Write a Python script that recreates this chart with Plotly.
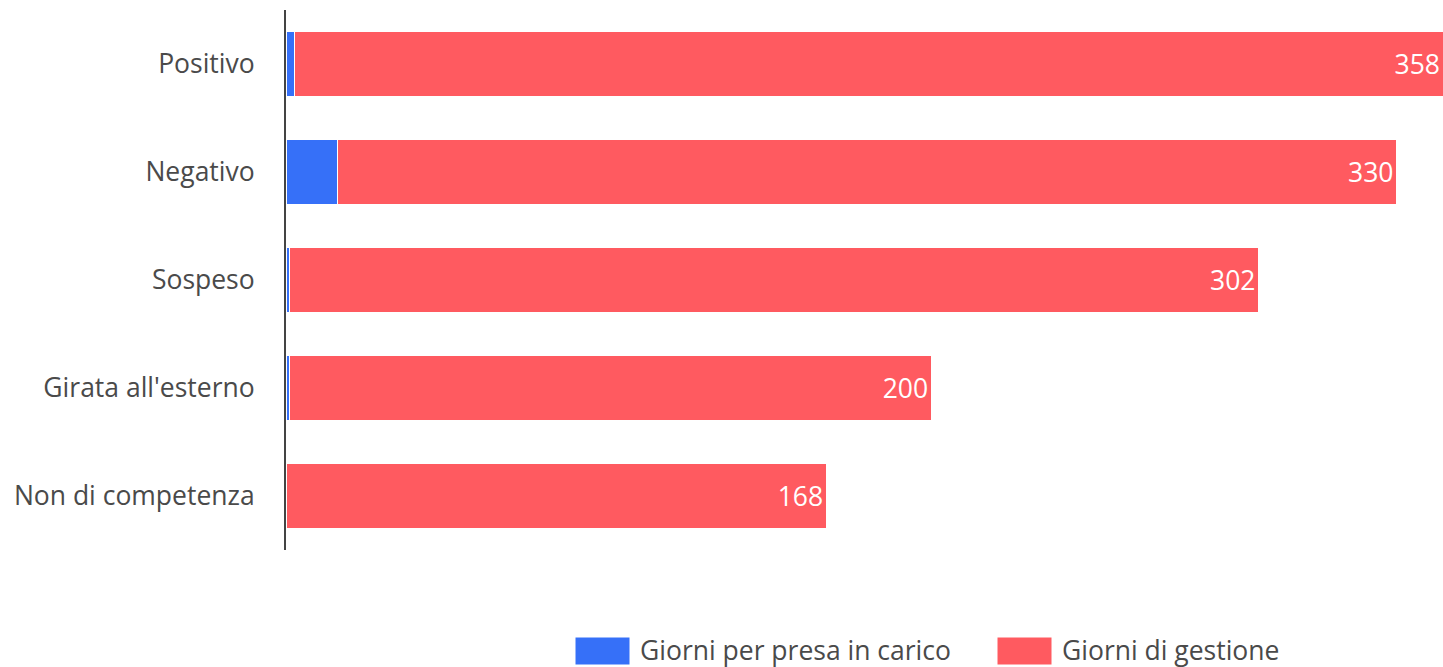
import plotly.graph_objects as go

categories = ["Positivo", "Negativo", "Sospeso", "Girata all'esterno", "Non di competenza"]
presa_in_carico = [2.5, 16, 1, 1, 0.3]
gestione = [358, 330, 302, 200, 168]
series_names = ["Giorni per presa in carico", "Giorni di gestione"]

BLUE = "#3670F8"
RED = "#FF5A60"
FONT = "Open Sans"
TXT = "#4a4a4a"
FS = 26.5

W, H = 1443, 667
L, R, T = 286, 0, 10
ph = 540
B = H - T - ph
pw = W - L - R

def px(x):
    return (x - L) / pw

def py(y):
    return (T + ph - y) / ph

fig = go.Figure()
fig.add_trace(go.Bar(
    y=categories, x=presa_in_carico, orientation="h", name=series_names[0],
    marker=dict(color=BLUE, line=dict(color="white", width=1)),
    hoverinfo="x+name", showlegend=False,
))
fig.add_trace(go.Bar(
    y=categories, x=gestione, orientation="h", name=series_names[1],
    marker=dict(color=RED, line=dict(color="white", width=1)),
    text=[str(v) for v in gestione], textposition="inside", insidetextanchor="end",
    textfont=dict(color="white", size=FS, family=FONT),
    hoverinfo="x+name", showlegend=False,
))

totals = [a + b for a, b in zip(presa_in_carico, gestione)]

fig.update_layout(
    width=W, height=H,
    margin=dict(l=L, r=R, t=T, b=B, pad=0),
    barmode="stack", bargap=0.39,
    plot_bgcolor="white", paper_bgcolor="white",
    font=dict(family=FONT, color=TXT, size=FS),
    xaxis=dict(range=[0, max(totals)], visible=False, fixedrange=True),
    yaxis=dict(
        categoryorder="array", categoryarray=categories, autorange="reversed",
        showline=True, linecolor="#444444", linewidth=2, showgrid=False,
        ticks="", ticklabelstandoff=24, tickfont=dict(size=FS, color=TXT, family=FONT),
    ),
    showlegend=False,
)

# custom legend with large swatches
legend_items = [(575, BLUE, series_names[0]), (997, RED, series_names[1])]
for x0, col, name in legend_items:
    fig.add_shape(type="rect", xref="paper", yref="paper",
                  x0=px(x0), x1=px(x0 + 55), y0=py(665), y1=py(637),
                  fillcolor=col, line=dict(color="white", width=1))
    fig.add_annotation(xref="paper", yref="paper", x=px(x0 + 63), y=py(650),
                       text=name, showarrow=False, xanchor="left", yanchor="middle",
                       font=dict(size=FS, color=TXT, family=FONT))

fig.write_html(
    "out.html",
    config={"displayModeBar": False},
    post_script="document.body.style.margin='0';document.body.style.overflow='hidden';",
)
